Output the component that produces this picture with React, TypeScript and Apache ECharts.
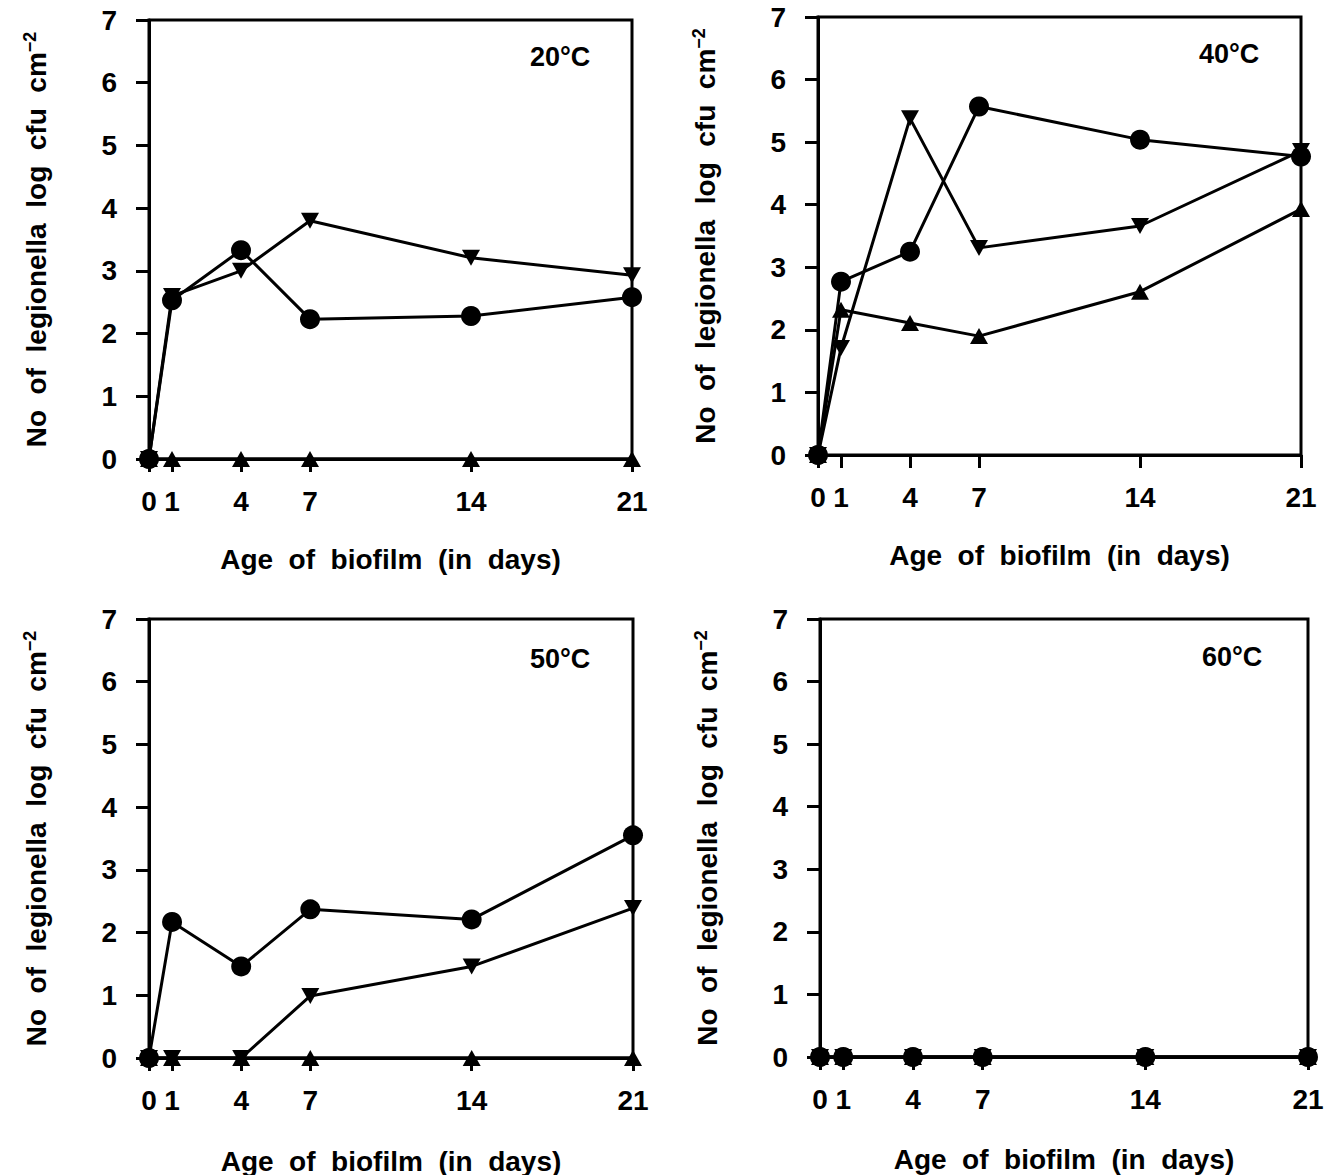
import React, { useEffect, useRef } from "react";
import * as echarts from "echarts";

const days = [0, 1, 4, 7, 14, 21];
const yTicks = [0, 1, 2, 3, 4, 5, 6, 7];

const p20Circle = [0, 2.53, 3.33, 2.23, 2.28, 2.58];
const p20Down = [0, 2.6, 3.0, 3.8, 3.21, 2.93];
const p20Up = [0, 0, 0, 0, 0, 0];

const p40Circle = [0, 2.77, 3.25, 5.57, 5.04, 4.77];
const p40Down = [0, 1.71, 5.38, 3.31, 3.66, 4.86];
const p40Up = [0, 2.32, 2.11, 1.9, 2.61, 3.93];

const p50Circle = [0, 2.17, 1.46, 2.37, 2.21, 3.55];
const p50Down = [0, 0, 0, 0.99, 1.46, 2.39];
const p50Up = [0, 0, 0, 0, 0, 0];

const p60Circle = [0, 0, 0, 0, 0, 0];
const p60Down = [0, 0, 0, 0, 0, 0];
const p60Up = [0, 0, 0, 0, 0, 0];

const panelLabels = ["20°C", "40°C", "50°C", "60°C"];
const xTitle = "Age  of  biofilm  (in  days)";
const yTitle = "No  of  legionella  log  cfu  cm{sup|−2}";

const FONT = "'Liberation Sans', Arial, Helvetica, sans-serif";

const panels = [
  { circle: p20Circle, down: p20Down, up: p20Up },
  { circle: p40Circle, down: p40Down, up: p40Up },
  { circle: p50Circle, down: p50Down, up: p50Up },
  { circle: p60Circle, down: p60Down, up: p60Up },
];

const grids = [
  { left: 149, top: 20, width: 483, height: 439 },
  { left: 818, top: 17, width: 483, height: 438 },
  { left: 149, top: 619, width: 484, height: 439 },
  { left: 820, top: 619, width: 488, height: 438 },
];

const xNameGaps = [86, 86, 89, 88];

const labelPos = [
  { left: 530, top: 43 },
  { left: 1199, top: 40 },
  { left: 530, top: 645 },
  { left: 1202, top: 643 },
];

export default function App() {
  const ref = useRef<HTMLDivElement>(null);
  useEffect(() => {
    document.body.style.margin = "0";
    if (!ref.current) return;
    const chart = echarts.init(ref.current, null, { renderer: "svg" });
    const black = "#000";
    const xAxes = grids.map((_, i) => ({
      type: "value",
      gridIndex: i,
      min: 0,
      max: 21,
      name: xTitle,
      nameLocation: "middle",
      nameGap: xNameGaps[i],
      nameTextStyle: { fontSize: 28, fontWeight: "bold", fontFamily: FONT, color: black },
      axisLine: { show: true, onZero: false, lineStyle: { color: black, width: 3 } },
      axisTick: { show: true, inside: false, length: 13, customValues: days, lineStyle: { color: black, width: 3 } },
      axisLabel: { show: true, customValues: days, margin: 28, fontSize: 28, fontWeight: "bold", fontFamily: FONT, color: black },
      splitLine: { show: false },
    }));
    const yAxes = grids.map((_, i) => ({
      type: "value",
      gridIndex: i,
      min: 0,
      max: 7,
      interval: 1,
      name: yTitle,
      nameLocation: "middle",
      nameGap: 98,
      nameTextStyle: {
        fontSize: 28,
        fontWeight: "bold",
        fontFamily: FONT,
        color: black,
        rich: {
          sup: { fontSize: 18, fontWeight: "bold", fontFamily: FONT, color: black, verticalAlign: "top", padding: [0, 0, 12, 0] },
        },
      },
      axisLine: { show: true, onZero: false, lineStyle: { color: black, width: 3 } },
      axisTick: { show: true, inside: false, length: 13, customValues: yTicks, lineStyle: { color: black, width: 3 } },
      axisLabel: {
        show: true,
        customValues: yTicks,
        margin: 32,
        fontSize: 28,
        fontWeight: "bold",
        fontFamily: FONT,
        color: black,
      },
      splitLine: { show: false },
    }));
    const series: any[] = [];
    panels.forEach((p, i) => {
      const mk = (vals: number[]) => days.map((d, j) => [d, vals[j]]);
      const common = {
        type: "line",
        xAxisIndex: i,
        yAxisIndex: i,
        clip: false,
        lineStyle: { color: black, width: 3 },
        itemStyle: { color: black, borderWidth: 0 },
        showAllSymbol: true,
        silent: true,
      };
      series.push({ ...common, name: `up${i}`, symbol: "triangle", symbolSize: [18, 16], data: mk(p.up), z: 3 });
      series.push({ ...common, name: `down${i}`, symbol: "triangle", symbolRotate: 180, symbolSize: [18, 16], data: mk(p.down), z: 4 });
      series.push({ ...common, name: `circle${i}`, symbol: "circle", symbolSize: 20, data: mk(p.circle), z: 5 });
    });
    chart.setOption({
      animation: false,
      backgroundColor: "#fff",
      title: panelLabels.map((t, i) => ({
        text: t,
        left: labelPos[i].left,
        top: labelPos[i].top,
        padding: 0,
        textStyle: { fontSize: 27, fontWeight: "bold", fontFamily: FONT, color: black },
      })),
      grid: grids.map((g) => ({
        ...g,
        show: true,
        containLabel: false,
        outerBoundsMode: "none",
        borderColor: black,
        borderWidth: 3,
        backgroundColor: "transparent",
      })),
      xAxis: xAxes,
      yAxis: yAxes,
      series,
    });
    return () => chart.dispose();
  }, []);
  return <div ref={ref} style={{ width: 1332, height: 1175 }} />;
}
